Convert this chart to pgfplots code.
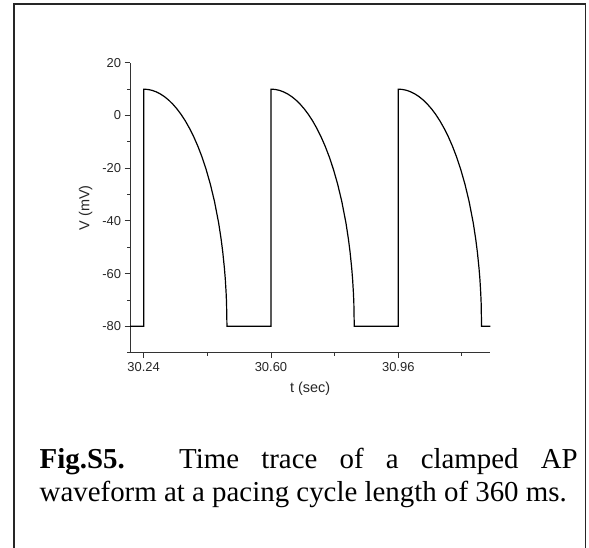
\documentclass[border=0pt]{standalone}
\usepackage{fontspec}
\setmainfont{Liberation Serif}
\newfontfamily\arial{Liberation Sans}
\usepackage{pgfplots}
\pgfplotsset{compat=1.18}
\begin{document}
\begin{tikzpicture}
\useasboundingbox (0bp,0bp) rectangle (589bp,548bp);
\draw[line width=1.3bp, black!85] (14bp,-2bp) -- (14bp,544bp) -- (585.5bp,544bp) -- (585.5bp,-2bp);
\begin{axis}[
  at={(130bp,195.3bp)}, anchor=south west,
  scale only axis, width=360.3bp, height=289.9bp,
  xmin=30.2013, xmax=31.2202, ymin=-90, ymax=20,
  axis lines*=left, axis line style={-, line width=0.9bp, black!80},
  clip=false,
  xtick={30.24,30.60,30.96}, xticklabels={30.24,30.60,30.96},
  minor xtick={30.42,30.78,31.14},
  ytick={-80,-60,-40,-20,0,20}, yticklabels={-80,-60,-40,-20,0,20},
  minor ytick={-90,-70,-50,-30,-10,10},
  tick align=outside,
  major tick length=5.5bp, minor tick length=3bp,
  every tick/.style={line width=0.9bp, black!80},
  /pgf/number format/assume math mode=true,
  tick label style={font=\arial\fontsize{13}{15}\selectfont, text=black!85},
  xticklabel style={yshift=-1bp},
  xlabel={t (sec)}, ylabel={V (mV)},
  label style={font=\arial\fontsize{14.5}{16}\selectfont, text=black!85},
  xlabel style={yshift=-3bp},
  ylabel style={yshift=3bp},
]
\addplot[black, line width=1.2bp] coordinates {
(30.2013,-80) (30.2400,-80) (30.2400,10) (30.2518,9.89) (30.2636,9.55) (30.2753,8.98) (30.2871,8.18) (30.2989,7.14) (30.3107,5.85) (30.3224,4.31) (30.3342,2.49) (30.3460,0.37) (30.3578,-2.06) (30.3695,-4.84) (30.3813,-8.00) (30.3931,-11.61) (30.4049,-15.73) (30.4166,-20.47) (30.4284,-26.00) (30.4402,-32.59) (30.4520,-40.77) (30.4590,-46.92) (30.4637,-51.90) (30.4684,-58.12) (30.4708,-62.09) (30.4731,-67.30) (30.4743,-71.01) (30.4755,-80)
(30.6000,-80) (30.6000,10) (30.6118,9.89) (30.6236,9.55) (30.6353,8.98) (30.6471,8.18) (30.6589,7.14) (30.6707,5.85) (30.6824,4.31) (30.6942,2.49) (30.7060,0.37) (30.7178,-2.06) (30.7295,-4.84) (30.7413,-8.00) (30.7531,-11.61) (30.7649,-15.73) (30.7766,-20.47) (30.7884,-26.00) (30.8002,-32.59) (30.8120,-40.77) (30.8190,-46.92) (30.8237,-51.90) (30.8284,-58.12) (30.8308,-62.09) (30.8331,-67.30) (30.8343,-71.01) (30.8355,-80)
(30.9600,-80) (30.9600,10) (30.9718,9.89) (30.9836,9.55) (30.9953,8.98) (31.0071,8.18) (31.0189,7.14) (31.0307,5.85) (31.0424,4.31) (31.0542,2.49) (31.0660,0.37) (31.0778,-2.06) (31.0895,-4.84) (31.1013,-8.00) (31.1131,-11.61) (31.1249,-15.73) (31.1366,-20.47) (31.1484,-26.00) (31.1602,-32.59) (31.1720,-40.77) (31.1790,-46.92) (31.1837,-51.90) (31.1884,-58.12) (31.1908,-62.09) (31.1931,-67.30) (31.1943,-71.01) (31.1955,-80) (31.2202,-80)
};
\end{axis}
\node[anchor=base west, inner sep=0pt, font=\fontsize{29}{35}\selectfont] at (39.5bp,79bp) {\makebox[538bp][s]{\textbf{Fig.S5.} Time trace of a clamped AP}};
\node[anchor=base west, inner sep=0pt, font=\fontsize{29}{35}\selectfont] at (39.5bp,46bp) {waveform at a pacing cycle length of 360 ms.};
\end{tikzpicture}
\end{document}
